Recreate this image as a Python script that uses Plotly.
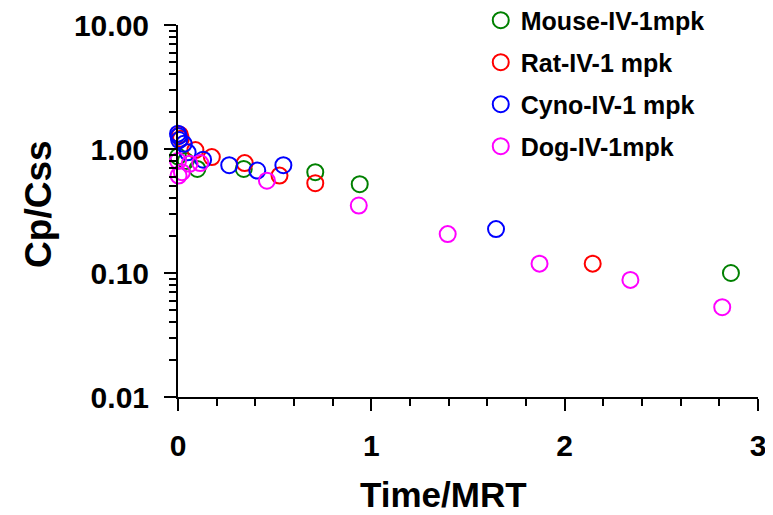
import plotly.graph_objects as go

# ---- data ----
mouse_t = [0.0, 0.04, 0.10, 0.34, 0.71, 0.94, 2.86]
mouse_v = [0.87, 0.80, 0.69, 0.69, 0.65, 0.52, 0.10]

rat_t = [0.01, 0.015, 0.09, 0.175, 0.345, 0.525, 0.71, 2.145]
rat_v = [1.30, 1.21, 0.98, 0.86, 0.77, 0.61, 0.53, 0.119]

cyno_t = [0.0, 0.003, 0.006, 0.03, 0.05, 0.13, 0.265, 0.41, 0.545, 1.645]
cyno_v = [1.33, 1.27, 1.18, 1.10, 0.94, 0.82, 0.74, 0.67, 0.74, 0.226]

dog_t = [0.0, 0.003, 0.02, 0.06, 0.115, 0.46, 0.935, 1.395, 1.87, 2.34, 2.815]
dog_v = [0.80, 0.61, 0.65, 0.76, 0.77, 0.555, 0.35, 0.206, 0.119, 0.088, 0.053]

series_names = ["Mouse-IV-1mpk", "Rat-IV-1 mpk", "Cyno-IV-1 mpk", "Dog-IV-1mpk"]
series_colors = ["#008000", "#FF0000", "#0000FF", "#FF00FF"]

x_tick_vals = [0, 1, 2, 3]
y_tick_vals = [0.01, 0.1, 1, 10]
y_tick_text = ["0.01", "0.10", "1.00", "10.00"]
y_minor_vals = [m * 10 ** e for e in (-2, -1, 0) for m in range(2, 10)]

FONT = "Liberation Sans"

fig = go.Figure()
for name, t, v, c in zip(series_names, [mouse_t, rat_t, cyno_t, dog_t],
                         [mouse_v, rat_v, cyno_v, dog_v], series_colors):
    fig.add_trace(go.Scatter(
        x=t, y=v, mode="markers", name=name, legendgroup=name,
        cliponaxis=False,
        marker=dict(symbol="circle-open", size=16, color=c,
                    line=dict(width=2, color=c)),
    ))

# the page body adds an 8px offset, so the figure is 8px smaller/shifted
fig.update_layout(
    width=765, height=507,
    margin=dict(l=170, r=15, t=17, b=118, autoexpand=False),
    paper_bgcolor="white", plot_bgcolor="white",
    font=dict(family=FONT, color="black"),
    showlegend=True,
    legend=dict(
        x=0.522, y=1.074, xanchor="left", yanchor="top",
        font=dict(family=FONT, size=25, weight="bold", color="black"),
        tracegroupgap=6.5, traceorder="grouped",
        bgcolor="rgba(0,0,0,0)", itemwidth=30,
    ),
    xaxis=dict(
        range=[0, 3], tickvals=x_tick_vals, ticks="outside", ticklen=12,
        tickwidth=2, tickcolor="black", showline=True, linewidth=2,
        linecolor="black", showgrid=False, zeroline=False, automargin=False,
        tickfont=dict(family=FONT, size=30, weight="bold", color="black"),
        ticklabelstandoff=9,
        minor=dict(ticks="outside", ticklen=7, tickwidth=1.5,
                   tickcolor="black", dtick=0.2, showgrid=False),
    ),
    yaxis=dict(
        type="log", range=[-2, 1], tickvals=y_tick_vals, ticktext=y_tick_text,
        ticks="outside", ticklen=12, tickwidth=2, tickcolor="black",
        showline=True, linewidth=2, linecolor="black", showgrid=False,
        zeroline=False, automargin=False,
        tickfont=dict(family=FONT, size=30, weight="bold", color="black"),
        ticklabelstandoff=9,
        minor=dict(ticks="outside", ticklen=7, tickwidth=1.5,
                   tickcolor="black", tickvals=y_minor_vals, showgrid=False),
    ),
    annotations=[
        dict(text="Time/MRT", xref="paper", yref="paper", x=0.4586, y=-0.262,
             xanchor="center", yanchor="middle", showarrow=False,
             font=dict(family=FONT, size=35, weight="bold", color="black")),
        dict(text="Cp/Css", xref="paper", yref="paper", x=-0.2397, y=0.519,
             xanchor="center", yanchor="middle", showarrow=False, textangle=-90,
             font=dict(family=FONT, size=37, weight="bold", color="black")),
    ],
)

fig.write_html("out.html")
